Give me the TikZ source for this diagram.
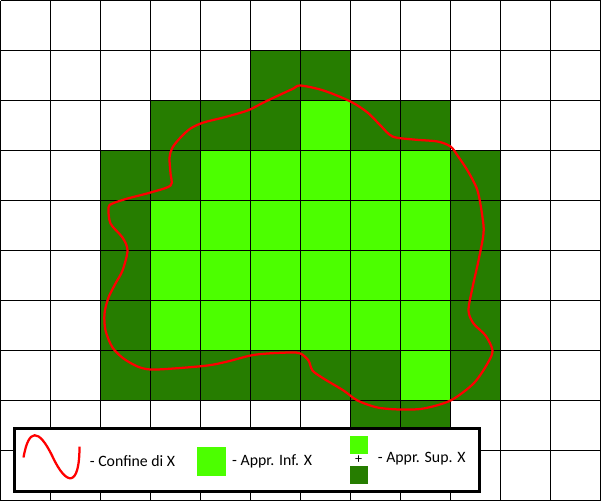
\documentclass[tikz,border=0pt]{standalone}
\usepackage{fontspec}
\setmainfont{Carlito}
\usepackage{tikz}
\usetikzlibrary{positioning}
\definecolor{supgreen}{RGB}{38,125,0}
\definecolor{infgreen}{RGB}{76,255,0}
\definecolor{bordred}{RGB}{255,0,0}
\tikzset{
  gridline/.style={black, line width=0.02cm},
  supcell/.style={fill=supgreen},
  infcell/.style={fill=infgreen},
  boundary/.style={bordred, line width=0.045cm, line join=round},
  legendbox/.style={draw=black, fill=white, line width=0.045cm},
  keybox/.style={rectangle, inner sep=0pt, minimum width=0.58cm, minimum height=0.58cm},
  smallkey/.style={rectangle, inner sep=0pt, minimum width=0.36cm, minimum height=0.36cm},
  legtext/.style={font=\fontsize{9}{11}\selectfont, inner sep=0pt, anchor=west}
}
\begin{document}
\begin{tikzpicture}[x=0.02cm, y=-0.02cm]
  \useasboundingbox (-0.5,-0.5) rectangle (600.5,500.5);

  % Upper approximation (dark cells)
  \foreach \c/\r in {5/1,6/1, 3/2,4/2,5/2,7/2,8/2, 2/3,3/3,9/3, 2/4,9/4, 2/5,9/5, 2/6,9/6,
                     2/7,3/7,4/7,5/7,6/7,7/7,9/7, 7/8,8/8}
    \fill[supcell] (50*\c,50*\r) rectangle (50*\c+50,50*\r+50);

  % Lower approximation (light cells)
  \foreach \c/\r in {6/2, 4/3,5/3,6/3,7/3,8/3, 8/7}
    \fill[infcell] (50*\c,50*\r) rectangle (50*\c+50,50*\r+50);
  \foreach \r in {4,5,6}
    \foreach \c in {3,...,8}
      \fill[infcell] (50*\c,50*\r) rectangle (50*\c+50,50*\r+50);

  % Grid
  \foreach \i in {0,50,...,600}
    \draw[gridline] (\i,0) -- (\i,500);
  \foreach \j in {0,50,...,500}
    \draw[gridline] (0,\j) -- (600,\j);

  % Boundary of X
  \draw[boundary] plot[smooth cycle, tension=0.5] coordinates {
    (300,85) (323,90) (350,101) (367,112) (380,125) (392,136) (413,139) (437,141)
    (450,146) (457,155) (467,170) (477,190) (482,217) (483,233) (478,260) (472,287)
    (468,310) (473,323) (485,335) (492,350) (487,363) (473,383) (450,400) (423,408)
    (400,409) (377,407) (357,400) (343,390) (323,378) (312,370) (308,360) (300,353)
    (290,352) (267,353) (250,355) (227,361) (207,365) (173,368) (150,369) (137,366)
    (123,358) (112,347) (105,330) (104,313) (108,297) (115,283) (122,270) (127,250)
    (122,237) (110,223) (108,207) (112,203) (127,198) (150,192) (170,185) (170,173)
    (169,157) (172,147) (180,137) (190,128) (203,122) (223,117) (247,110) (263,102)
    (280,94) (293,88)};

  % Legend
  \draw[legendbox] (14,428) rectangle (479,491);
  \draw[boundary] (23,457) .. controls (28,428) and (38,427) .. (52,456)
    .. controls (66,486) and (79,487) .. (79,446);
  \node[legtext] (confine) at (89,461) {- Confine di X};
  \node[keybox, infcell] (infkey) at (210.5,460.5) {};
  \node[legtext, right=0.12cm of infkey] (inftext) {- Appr. Inf. X};
  \node[smallkey, infcell] (supkeyA) at (358,444) {};
  \node[font=\fontsize{8}{10}\selectfont, inner sep=0pt] (plus) at (358,459) {+};
  \node[smallkey, supcell] (supkeyB) at (358,474) {};
  \node[legtext] (suptext) at (377,458) {- Appr. Sup. X};
\end{tikzpicture}
\end{document}
